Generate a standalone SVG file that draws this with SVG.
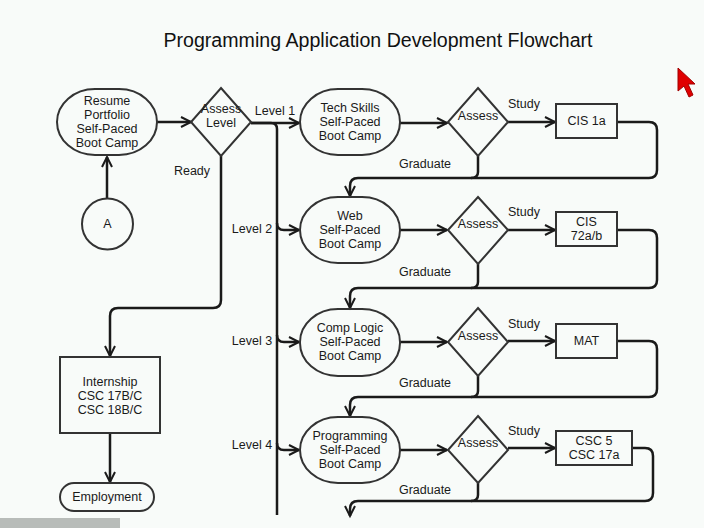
<svg xmlns="http://www.w3.org/2000/svg" width="704" height="528" viewBox="0 0 704 528">
<style>
text{font-family:"Liberation Sans",Arial,sans-serif;font-size:12.5px;fill:#1a1a1a;text-anchor:middle;dominant-baseline:central}
.title{font-size:19.6px;fill:#111}
.shape{fill:none;stroke:#333;stroke-width:2}
.conn{fill:none;stroke:#1a1a1a;stroke-width:2.5}
</style>
<defs>
<marker id="arr" markerUnits="userSpaceOnUse" markerWidth="14" markerHeight="14" refX="11" refY="6" orient="auto">
<path d="M1,1 L11,6 L1,11" fill="none" stroke="#1a1a1a" stroke-width="2"/>
</marker>
</defs>
<rect width="704" height="528" fill="#f8fbf9"/>
<text class="title" x="378" y="40">Programming Application Development Flowchart</text>

<g id="connectors">
<path class="conn" d="M107,198 V157" marker-end="url(#arr)"/>
<path class="conn" d="M157,122 H191" marker-end="url(#arr)"/>
<path class="conn" d="M251,123 H299" marker-end="url(#arr)"/>
<path class="conn" d="M251,123 H271 Q277,123 277,129 V515"/>
<path class="conn" d="M277,223 Q277,230 284,230 H299" marker-end="url(#arr)"/>
<path class="conn" d="M277,335 Q277,342 284,342 H299" marker-end="url(#arr)"/>
<path class="conn" d="M277,443 Q277,450 284,450 H299" marker-end="url(#arr)"/>
<path class="conn" d="M221,156 V300 Q221,308 213,308 H118 Q110,308 110,316 V356" marker-end="url(#arr)"/>
<path class="conn" d="M110,433 V482" marker-end="url(#arr)"/>
<!-- row 1 -->
<path class="conn" d="M400,123 H447" marker-end="url(#arr)"/>
<path class="conn" d="M508,122 H555" marker-end="url(#arr)"/>
<path class="conn" d="M617,122 H649 Q657,122 657,130 V170 Q657,178 649,178 H358 Q350,178 350,186 V196" marker-end="url(#arr)"/>
<path class="conn" d="M478,156 V172 Q478,178 471,178"/>
<!-- row 2 -->
<path class="conn" d="M400,230 H447" marker-end="url(#arr)"/>
<path class="conn" d="M508,230 H555" marker-end="url(#arr)"/>
<path class="conn" d="M617,230 H649 Q657,230 657,238 V280 Q657,288 649,288 H358 Q350,288 350,296 V308" marker-end="url(#arr)"/>
<path class="conn" d="M478,264 V282 Q478,288 471,288"/>
<!-- row 3 -->
<path class="conn" d="M400,342 H447" marker-end="url(#arr)"/>
<path class="conn" d="M508,341 H555" marker-end="url(#arr)"/>
<path class="conn" d="M617,341 H649 Q657,341 657,349 V389 Q657,397 649,397 H358 Q350,397 350,405 V416" marker-end="url(#arr)"/>
<path class="conn" d="M478,376 V391 Q478,397 471,397"/>
<!-- row 4 -->
<path class="conn" d="M400,450 H447" marker-end="url(#arr)"/>
<path class="conn" d="M508,448 H555" marker-end="url(#arr)"/>
<path class="conn" d="M632,448 H645 Q653,448 653,456 V493 Q653,501 645,501 H358 Q350,501 350,509 V516" marker-end="url(#arr)"/>
<path class="conn" d="M478,483 V495 Q478,501 471,501"/>
</g>

<g id="labels">
<text x="192" y="171">Ready</text>
<text x="275" y="111">Level 1</text>
<text x="252" y="229">Level 2</text>
<text x="252" y="341">Level 3</text>
<text x="252" y="445">Level 4</text>
<text x="524" y="104">Study</text>
<text x="524" y="212">Study</text>
<text x="524" y="324">Study</text>
<text x="524" y="431">Study</text>
<text x="425" y="164">Graduate</text>
<text x="425" y="272">Graduate</text>
<text x="425" y="383">Graduate</text>
<text x="425" y="490">Graduate</text>
</g>

<g id="resume">
<rect class="shape" x="57" y="89" width="100" height="66" rx="38" ry="33"/>
<text x="107" y="101">Resume</text>
<text x="107" y="115">Portfolio</text>
<text x="107" y="129">Self-Paced</text>
<text x="107" y="143">Boot Camp</text>
</g>
<g id="start-a">
<circle class="shape" cx="107.5" cy="224" r="25.5"/>
<text x="107.5" y="224">A</text>
</g>
<g id="assess-level">
<polygon class="shape" points="221,88 251,122 221,156 191,122"/>
<text x="221" y="109">Assess</text>
<text x="221" y="123">Level</text>
</g>
<g id="internship">
<rect class="shape" x="60" y="357" width="100" height="76"/>
<text x="110" y="382">Internship</text>
<text x="110" y="396">CSC 17B/C</text>
<text x="110" y="410">CSC 18B/C</text>
</g>
<g id="employment">
<rect class="shape" x="60" y="483" width="94" height="28" rx="14" ry="14"/>
<text x="107" y="497">Employment</text>
</g>

<g id="tech-skills">
<rect class="shape" x="300" y="89" width="100" height="66" rx="38" ry="33"/>
<text x="350" y="108">Tech Skills</text>
<text x="350" y="122">Self-Paced</text>
<text x="350" y="136">Boot Camp</text>
</g>
<g id="assess-1">
<polygon class="shape" points="478,88 508,122 478,156 448,122"/>
<text x="478" y="116">Assess</text>
</g>
<g id="cis-1a">
<rect class="shape" x="556" y="104" width="61" height="34"/>
<text x="586.5" y="121">CIS 1a</text>
</g>

<g id="web">
<rect class="shape" x="300" y="197" width="100" height="66" rx="38" ry="33"/>
<text x="350" y="216">Web</text>
<text x="350" y="230">Self-Paced</text>
<text x="350" y="244">Boot Camp</text>
</g>
<g id="assess-2">
<polygon class="shape" points="478,197 508,230 478,264 448,230"/>
<text x="478" y="224">Assess</text>
</g>
<g id="cis-72">
<rect class="shape" x="556" y="212" width="61" height="34"/>
<text x="586.5" y="222">CIS</text>
<text x="586.5" y="236">72a/b</text>
</g>

<g id="comp-logic">
<rect class="shape" x="300" y="309" width="100" height="67" rx="38" ry="33"/>
<text x="350" y="328">Comp Logic</text>
<text x="350" y="342">Self-Paced</text>
<text x="350" y="356">Boot Camp</text>
</g>
<g id="assess-3">
<polygon class="shape" points="478,308 508,342 478,376 448,342"/>
<text x="478" y="336">Assess</text>
</g>
<g id="mat">
<rect class="shape" x="556" y="324" width="61" height="34"/>
<text x="586.5" y="341">MAT</text>
</g>

<g id="programming">
<rect class="shape" x="300" y="417" width="100" height="66" rx="38" ry="33"/>
<text x="350" y="436">Programming</text>
<text x="350" y="450">Self-Paced</text>
<text x="350" y="464">Boot Camp</text>
</g>
<g id="assess-4">
<polygon class="shape" points="478,416 508,450 478,483 448,450"/>
<text x="478" y="443">Assess</text>
</g>
<g id="csc-5">
<rect class="shape" x="556" y="431" width="76" height="34"/>
<text x="594" y="441">CSC 5</text>
<text x="594" y="455">CSC 17a</text>
</g>

<rect x="0" y="518" width="120" height="10" fill="#b8bcb9"/>
<polygon points="678,68 678,91 684,86 689,97 693,95 688,84 695,84" fill="#e00000" stroke="#a00000" stroke-width="1"/>
</svg>
